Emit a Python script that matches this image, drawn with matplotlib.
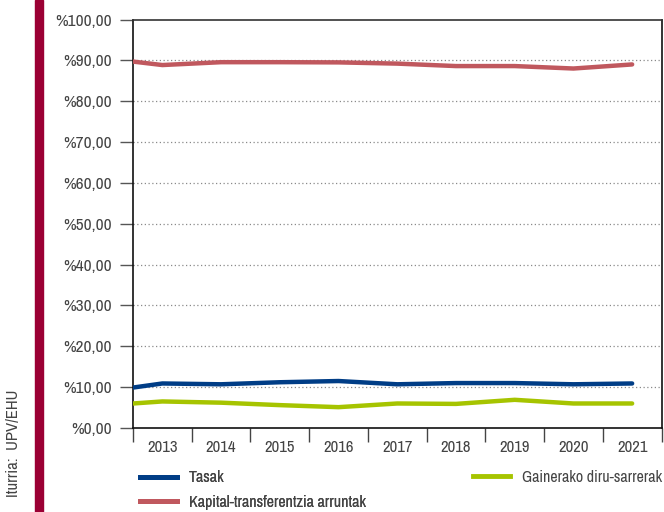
import matplotlib
matplotlib.use("Agg")
import matplotlib.pyplot as plt
from matplotlib.lines import Line2D
import numpy as np

years = ["2013", "2014", "2015", "2016", "2017", "2018", "2019", "2020", "2021"]
tasak_start = 9.9
tasak = [10.9, 10.7, 11.2, 11.5, 10.7, 11.0, 11.0, 10.7, 10.9]
kapital_start = 89.7
kapital = [88.85, 89.55, 89.55, 89.5, 89.2, 88.6, 88.6, 88.0, 89.0]
gainerako_start = 6.0
gainerako = [6.5, 6.2, 5.6, 5.1, 6.0, 5.9, 6.9, 6.0, 6.0]
yticks = [0, 10, 20, 30, 40, 50, 60, 70, 80, 90, 100]
labels_series = ["Tasak", "Kapital-transferentzia arruntak", "Gainerako diru-sarrerak"]
colors = ["#003d86", "#c0585e", "#a6c400"]
source = "Iturria:  UPV/EHU"

FONT = ["Archivo Narrow", "DejaVu Sans"]
plt.rcParams["font.family"] = FONT
TXT = "#444444"

fig = plt.figure(figsize=(6.64, 5.12), dpi=100)
ax = fig.add_axes([133 / 664, 84 / 512, 528.5 / 664, 408.5 / 512])

x = np.arange(len(years))
xs = np.concatenate([[-0.5], x])
series = [
    [tasak_start] + tasak,
    [kapital_start] + kapital,
    [gainerako_start] + gainerako,
]
for vals, c in zip(series, colors):
    ax.plot(xs, vals, color=c, lw=3.2, solid_capstyle="round", solid_joinstyle="round", zorder=3)

ax.set_xlim(-0.5, len(years) - 0.5)
ax.set_ylim(0, 100)
ax.set_yticks(yticks)
ax.set_yticklabels(["%{:.2f}".format(v).replace(".", ",") for v in yticks])
for v in yticks[1:-1]:
    ax.axhline(v, color="#8a8a8a", lw=0.9, ls=(0, (1, 2)), zorder=1)

ax.set_xticks(x)
ax.set_xticklabels(years)
ax.set_xticks(np.arange(-0.5, len(years)), minor=True)
ax.tick_params(axis="x", which="major", length=0, pad=9, labelsize=12, labelcolor=TXT)
ax.tick_params(axis="x", which="minor", length=10, width=1, color="#444444", direction="out")
ax.tick_params(axis="y", length=9.5, width=1, color="#555555", pad=6, labelsize=12.5, labelcolor=TXT)

for s in ax.spines.values():
    s.set_color("#111111")
    s.set_linewidth(1.2)
ax.spines["top"].set_color("#333333")

# left crimson bar
fig.patches.append(plt.Rectangle((35 / 664, 0), 8 / 664, 1, transform=fig.transFigure,
                                 color="#9b0034", zorder=0))
fig.text(14 / 664, (512 - 443) / 512, source, rotation=90, ha="center", va="center",
         fontsize=12, color=TXT)

handles = [Line2D([0], [0], color=c, lw=3.5) for c in colors]
leg1 = fig.legend([handles[0], handles[1]], [labels_series[0], labels_series[1]],
                  loc="center left", bbox_to_anchor=(140 / 664, (512 - 490) / 512),
                  frameon=False, fontsize=11.5, handlelength=2.3, handletextpad=0.75,
                  labelspacing=0.6, borderpad=0, borderaxespad=0, labelcolor=TXT)
leg2 = fig.legend([handles[2]], [labels_series[2]],
                  loc="center left", bbox_to_anchor=(473 / 664, (512 - 477) / 512),
                  frameon=False, fontsize=11.5, handlelength=2.3, handletextpad=0.75,
                  borderpad=0, borderaxespad=0, labelcolor=TXT)
fig.add_artist(leg1)

fig.savefig("out.png", dpi=100)
